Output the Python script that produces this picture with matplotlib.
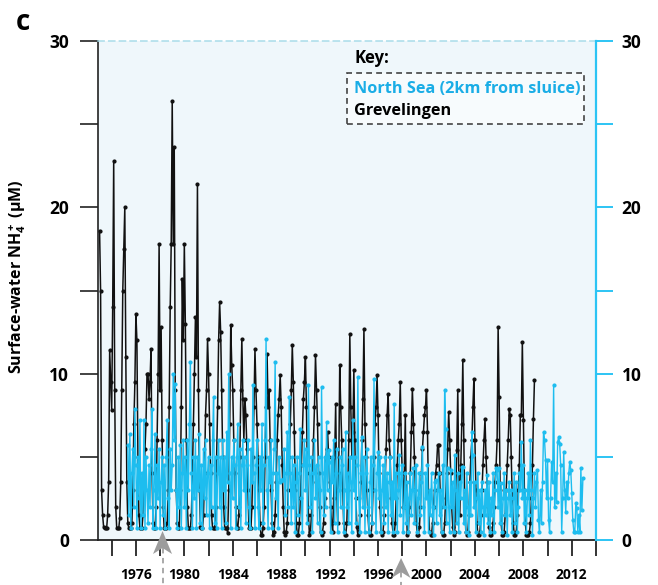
import numpy as np
import matplotlib
matplotlib.use('Agg')
import matplotlib.pyplot as plt
import matplotlib.transforms as mtransforms
from matplotlib.patches import Polygon, Rectangle
from matplotlib.lines import Line2D

plt.rcParams['font.family'] = ['Open Sans', 'DejaVu Sans']
plt.rcParams['font.weight'] = 'bold'
plt.rcParams['mathtext.fontset'] = 'custom'
plt.rcParams['mathtext.rm'] = 'Open Sans:bold'
plt.rcParams['mathtext.it'] = 'Open Sans:bold'
plt.rcParams['mathtext.bf'] = 'Open Sans:bold'

# Grevelingen surface NH4+ (uM), monthly, Jan 1973 - Dec 2008
grev_start = 1973.0
grev_nh4 = [
    18.6, 15.0, 3.0, 1.5, 0.8, 0.7, 0.7, 0.7, 1.5, 3.5, 11.4, 9.5,    # 1973
    7.8, 14.0, 22.8, 9.0, 2.0, 0.7, 0.7, 0.7, 1.3, 3.5, 9.0, 15.0,    # 1974
    17.5, 20.0, 11.0, 3.5, 1.0, 0.7, 0.7, 0.7, 1.0, 3.0, 7.0, 9.5,    # 1975
    13.6, 12.0, 5.0, 1.5, 0.7, 0.7, 0.7, 1.5, 3.5, 5.5, 7.0, 10.0,    # 1976
    10.0, 8.5, 9.5, 11.5, 4.0, 1.0, 0.7, 0.7, 2.0, 6.0, 10.0, 17.8,   # 1977
    9.0, 12.8, 6.0, 2.0, 0.7, 0.7, 0.7, 1.0, 3.0, 8.0, 14.0, 17.8,    # 1978
    26.4, 17.8, 23.6, 9.0, 3.0, 1.0, 0.7, 0.7, 3.0, 8.0, 15.7, 12.0,  # 1979
    17.8, 13.0, 6.0, 2.0, 0.7, 0.7, 0.7, 1.5, 4.0, 7.0, 10.0, 13.4,   # 1980
    11.0, 21.4, 9.0, 3.0, 0.8, 0.7, 0.7, 1.5, 4.0, 7.5, 9.0, 12.1,    # 1981
    10.0, 7.0, 4.0, 1.5, 0.7, 0.7, 0.7, 2.0, 5.0, 8.0, 12.0, 14.3,    # 1982
    12.5, 9.0, 5.0, 2.0, 0.7, 0.7, 0.7, 0.4, 3.0, 7.0, 12.9, 10.5,    # 1983
    9.0, 6.0, 4.0, 2.0, 0.7, 0.7, 1.5, 5.0, 9.0, 12.1, 8.5, 6.0,      # 1984
    8.5, 7.5, 5.5, 3.0, 0.7, 0.7, 0.7, 2.0, 5.0, 8.0, 11.5, 9.0,      # 1985
    7.0, 5.0, 3.0, 1.0, 0.3, 0.3, 0.7, 2.0, 5.0, 8.0, 11.2, 8.0,      # 1986
    9.0, 6.0, 3.0, 1.0, 0.3, 0.5, 1.5, 3.5, 6.0, 7.5, 8.5, 9.9,       # 1987
    8.0, 4.5, 2.0, 0.5, 0.3, 0.5, 1.0, 3.0, 5.0, 7.0, 9.0, 11.7,      # 1988
    9.5, 6.5, 3.0, 1.0, 0.3, 0.3, 1.0, 2.5, 4.5, 6.5, 8.5, 9.5,       # 1989
    11.0, 8.0, 4.0, 1.5, 0.3, 0.5, 1.5, 3.5, 6.0, 8.0, 11.1, 9.0,     # 1990
    7.0, 4.0, 2.0, 0.5, 0.3, 0.5, 1.0, 2.5, 4.5, 5.5, 6.5, 5.0,       # 1991
    3.5, 2.0, 1.0, 0.5, 2.5, 5.0, 8.2, 3.0, 1.0, 4.0, 10.5, 8.0,      # 1992
    6.0, 3.0, 1.0, 0.3, 0.3, 1.0, 3.0, 6.0, 12.4, 8.0, 5.0, 6.5,      # 1993
    10.2, 6.0, 2.5, 0.8, 0.3, 0.5, 1.5, 3.5, 6.0, 8.5, 12.7, 7.0,     # 1994
    5.0, 3.0, 1.5, 0.5, 0.3, 0.3, 1.0, 3.0, 5.0, 7.0, 8.0, 9.9,       # 1995
    7.5, 4.0, 2.0, 0.5, 0.3, 0.5, 1.5, 3.5, 5.5, 7.5, 8.8, 6.0,       # 1996
    5.0, 2.5, 1.0, 0.3, 0.3, 1.0, 2.5, 4.5, 6.0, 7.0, 9.5, 6.0,       # 1997
    4.0, 2.0, 4.0, 7.5, 2.0, 0.3, 0.5, 2.0, 4.0, 6.5, 9.1, 7.0,       # 1998
    5.0, 3.0, 1.0, 0.3, 0.3, 0.8, 2.0, 4.0, 5.5, 6.5, 7.5, 8.0,       # 1999
    9.0, 6.5, 2.5, 0.5, 0.3, 0.3, 1.0, 2.0, 3.0, 4.0, 4.5, 5.7,       # 2000
    5.7, 4.0, 2.0, 0.5, 0.3, 0.3, 1.0, 2.5, 4.0, 5.5, 7.7, 6.0,       # 2001
    4.0, 2.0, 0.8, 0.3, 0.5, 3.0, 5.4, 9.0, 4.0, 1.5, 4.5, 7.0,       # 2002
    10.8, 6.0, 2.0, 0.5, 0.3, 0.5, 1.5, 3.5, 5.0, 6.0, 8.0, 9.7,      # 2003
    6.0, 3.0, 1.0, 0.3, 0.3, 0.5, 1.5, 3.0, 4.5, 6.0, 7.3, 5.0,       # 2004
    3.5, 2.0, 0.8, 0.3, 0.3, 0.5, 1.0, 2.0, 3.5, 4.5, 6.0, 12.8,      # 2005
    8.6, 3.0, 1.0, 0.3, 0.3, 0.5, 1.5, 3.0, 4.5, 6.0, 7.9, 7.5,       # 2006
    5.0, 2.5, 1.0, 0.3, 0.3, 0.5, 1.5, 3.0, 4.5, 7.5, 7.5, 11.9,      # 2007
    7.2, 3.0, 1.0, 0.3, 0.3, 0.3, 0.5, 1.0, 2.5, 4.5, 7.3, 9.6,       # 2008
]

# North Sea station 2 km from the sluice, monthly, May 1975 - Dec 2012
ns_start = 1975 + 4 / 12
ns_nh4 = [
    5.7, 1.5, 6.4, 0.7, 4.0, 5.5, 2.0, 7.9,                      # 1975
    4.5, 0.7, 5.0, 2.5, 7.2, 0.7, 4.0, 1.5, 7.2, 0.7, 5.0, 3.0,  # 1976
    1.0, 4.5, 2.0, 5.5, 7.9, 0.7, 3.0, 6.4, 0.7, 4.5, 2.5, 5.5,  # 1977
    0.7, 3.5, 5.0, 1.5, 4.5, 0.7, 5.0, 7.2, 2.5, 0.7, 5.5, 3.0,  # 1978
    4.5, 10.0, 6.0, 9.4, 3.0, 0.7, 5.0, 2.0, 5.7, 0.7, 4.0, 6.0, # 1979
    2.0, 5.0, 0.7, 6.0, 3.0, 7.0, 10.7, 4.0, 0.7, 5.0, 2.5, 6.0, # 1980
    0.7, 5.0, 3.0, 6.4, 1.0, 4.5, 0.7, 5.5, 2.5, 6.0, 1.5, 4.0,  # 1981
    5.0, 0.7, 4.5, 2.0, 6.0, 8.6, 1.0, 5.0, 0.7, 4.0, 6.0, 2.0,  # 1982
    5.0, 0.7, 6.0, 3.0, 5.0, 1.0, 6.5, 3.5, 10.0, 4.0, 0.7, 5.0, # 1983
    2.5, 6.0, 4.5, 0.7, 5.0, 7.0, 2.0, 5.5, 0.7, 4.5, 6.0, 3.0,  # 1984
    5.0, 1.0, 4.5, 6.0, 2.0, 0.7, 5.5, 3.5, 9.3, 4.0, 0.7, 4.5,  # 1985
    6.0, 2.0, 0.7, 5.0, 3.0, 7.0, 1.0, 4.5, 6.0, 12.1, 3.0, 0.7, # 1986
    5.0, 3.5, 6.0, 0.7, 4.0, 5.5, 10.7, 2.5, 4.0, 0.7, 5.0, 3.5, # 1987
    3.6, 3.6, 3.6, 5.5, 1.5, 4.0, 6.5, 2.0, 8.6, 4.0, 1.0, 5.0,  # 1988
    2.0, 4.5, 0.5, 3.5, 5.0, 1.5, 4.0, 6.7, 2.5, 0.5, 4.5, 6.0,  # 1989
    3.0, 5.5, 1.0, 9.3, 4.5, 2.0, 5.0, 0.5, 4.0, 6.0, 2.5, 4.5,  # 1990
    1.0, 5.0, 3.0, 0.5, 9.2, 4.0, 1.5, 5.0, 2.0, 7.1, 3.0, 5.4,  # 1991
    4.7, 0.5, 5.0, 3.5, 6.0, 1.0, 4.0, 5.5, 0.5, 3.0, 5.0, 2.0,  # 1992
    4.5, 5.5, 0.5, 3.0, 6.5, 2.0, 4.0, 1.0, 5.0, 3.5, 0.5, 7.2,  # 1993
    3.0, 5.0, 1.0, 4.5, 9.8, 2.5, 0.5, 4.0, 6.2, 2.0, 5.0, 0.5,  # 1994
    4.0, 5.5, 2.0, 0.5, 3.5, 5.0, 1.0, 4.5, 9.7, 3.0, 0.5, 4.0,  # 1995
    5.3, 2.5, 5.0, 0.5, 3.0, 4.5, 1.0, 5.0, 2.0, 4.0, 0.5, 3.5,  # 1996
    5.0, 1.5, 3.5, 0.5, 8.2, 2.5, 4.0, 0.5, 3.0, 5.1, 1.5, 4.0,  # 1997
    4.5, 0.5, 2.0, 4.0, 1.0, 3.5, 0.5, 2.5, 4.0, 1.5, 3.0, 4.3,  # 1998
    1.0, 3.0, 4.5, 0.5, 2.5, 4.0, 1.5, 3.5, 5.6, 2.0, 0.5, 4.0,  # 1999
    2.5, 4.5, 0.5, 3.0, 1.5, 4.0, 2.0, 0.3, 3.5, 3.6, 1.0, 3.0,  # 2000
    4.0, 1.5, 3.0, 0.5, 4.5, 2.0, 9.0, 6.7, 1.0, 4.3, 2.0, 0.5,  # 2001
    4.2, 2.0, 3.5, 0.5, 5.1, 3.0, 1.0, 4.0, 0.5, 3.5, 2.5, 4.4,  # 2002
    4.4, 1.0, 3.0, 0.5, 4.0, 2.0, 0.3, 3.5, 1.5, 6.5, 5.1, 2.0,  # 2003
    3.5, 0.5, 2.5, 4.0, 1.0, 3.0, 0.5, 3.5, 2.0, 0.3, 3.0, 1.5,  # 2004
    3.9, 1.0, 3.5, 0.5, 2.5, 1.5, 4.0, 0.5, 3.0, 4.3, 4.2, 2.0,  # 2005
    4.3, 1.0, 3.4, 0.5, 2.5, 4.0, 1.5, 3.0, 0.3, 2.5, 3.5, 1.5,  # 2006
    3.0, 0.5, 2.5, 4.0, 1.0, 3.5, 0.5, 2.0, 4.0, 3.0, 5.9, 2.5,  # 2007
    4.5, 1.0, 3.0, 0.5, 2.5, 4.0, 1.5, 6.0, 3.0, 0.3, 2.5, 4.0,  # 2008
    2.0, 3.5, 4.2, 1.2, 0.5, 3.0, 1.0, 3.5, 6.5, 6.0, 4.8, 2.5,  # 2009
    4.8, 1.2, 0.5, 2.5, 4.7, 3.5, 9.3, 2.0, 4.0, 2.3, 5.9, 6.2,  # 2010
    5.8, 4.5, 0.5, 2.5, 5.3, 3.0, 1.7, 3.5, 2.5, 4.0, 4.7, 4.2,  # 2011
    2.8, 1.2, 0.5, 0.5, 2.2, 1.9, 0.5, 1.5, 0.5, 4.3, 1.8, 3.7,  # 2012
]

year_labels = [1976, 1980, 1984, 1988, 1992, 1996, 2000, 2004, 2008, 2012]
year_minor = [1974, 1978, 1982, 1986, 1990, 1994, 1998, 2002, 2006, 2010, 2014]
arrow_years = [1978.2, 1997.9]

grev_t = grev_start + np.arange(len(grev_nh4)) / 12
ns_t = ns_start + np.arange(len(ns_nh4)) / 12

BLACK = '#111111'
CYAN = '#1DBDEF'
AXCYAN = '#2CC4F4'

fig = plt.figure(figsize=(6.58, 5.85), dpi=100)
ax = fig.add_axes([98 / 658, 45 / 585, 498 / 658, 499 / 585])
ax.set_facecolor('#EFF7FB')

ax.plot(grev_t, grev_nh4, color=BLACK, lw=1.1, marker='o', ms=2.0, zorder=3)
ax.plot(ns_t, ns_nh4, color=CYAN, lw=1.0, marker='o', ms=2.0, zorder=4)

ax.set_xlim(1972.87, 2014.0)
ax.set_ylim(0, 30)

# spines
ax.spines['top'].set_color('#A9DCEA')
ax.spines['top'].set_linestyle((0, (4, 3)))
ax.spines['top'].set_linewidth(1.1)
ax.spines['left'].set_color('#222222')
ax.spines['left'].set_linewidth(1.2)
ax.spines['bottom'].set_color('#222222')
ax.spines['bottom'].set_linewidth(1.3)
ax.spines['right'].set_visible(False)

# x axis
ax.set_xticks(year_labels)
ax.set_xticklabels([str(y) for y in year_labels])
ax.set_xticks(year_minor, minor=True)
ax.tick_params(axis='x', which='both', direction='out', length=11.5, width=1.4,
               color='#333333', pad=9, labelsize=10)

# left y axis
yt = [0, 5, 10, 15, 20, 25, 30]
ylab = ['0', '', '10', '', '20', '', '30']
ax.set_yticks(yt)
ax.set_yticklabels(ylab)
ax.tick_params(axis='y', direction='out', length=13, width=1.2, color='#222222',
               pad=8, labelsize=12.5)

ax.set_ylabel('Surface-water NH$_4^+$ (µM)', fontsize=11.5, fontweight='bold')
ax.yaxis.set_label_coords(-0.141, 0.527)

# right y axis in cyan
ax2 = ax.twinx()
ax2.set_ylim(0, 30)
ax2.set_yticks(yt)
ax2.set_yticklabels(ylab)
ax2.tick_params(axis='y', direction='out', length=12, width=1.4, color=AXCYAN,
                pad=6.5, labelsize=12.5, labelcolor='black')
for s in ['top', 'left', 'bottom']:
    ax2.spines[s].set_visible(False)
ax2.spines['right'].set_color(AXCYAN)
ax2.spines['right'].set_linewidth(1.6)

# panel letter
fig.text(16 / 658, 1 - 30 / 585, 'c', fontsize=20, fontweight='bold', va='baseline')

# key box
fig.text(354 / 658, 1 - 63 / 585, 'Key:', fontsize=12, fontweight='bold', va='baseline')
fig.patches.append(Rectangle((347 / 658, 1 - 124 / 585), 237 / 658, 51 / 585,
                             transform=fig.transFigure, facecolor='#F7FBFD',
                             edgecolor='#444444', lw=1.2, linestyle=(0, (3.5, 2.5)),
                             zorder=5))
fig.text(354 / 658, 1 - 92.7 / 585, 'North Sea (2km from sluice)', fontsize=11.7,
         fontweight='bold', color='#1AADE6', va='baseline', zorder=6)
fig.text(354 / 658, 1 - 115 / 585, 'Grevelingen', fontsize=11.7,
         fontweight='bold', color='black', va='baseline', zorder=6)

# gray arrows below the time axis
tr = mtransforms.blended_transform_factory(ax.transData, fig.transFigure)
arrow_tip = [531, 558]
arrow_wing = [554, 578]
half_w = 9.5 / 12.1
for xa, tip, wing in zip(arrow_years, arrow_tip, arrow_wing):
    notch = wing - 6
    verts = [(xa, 1 - tip / 585), (xa + half_w, 1 - wing / 585),
             (xa, 1 - notch / 585), (xa - half_w, 1 - wing / 585)]
    fig.patches.append(Polygon(verts, closed=True, transform=tr, facecolor='#9C9C9C',
                               edgecolor='none', zorder=6))
    fig.lines.append(Line2D([xa, xa], [1 - notch / 585, 0], transform=tr, color='#A3A3A3',
                            lw=1.3, linestyle=(0, (3, 2.5)), zorder=5))

fig.savefig('out.png', dpi=100)
